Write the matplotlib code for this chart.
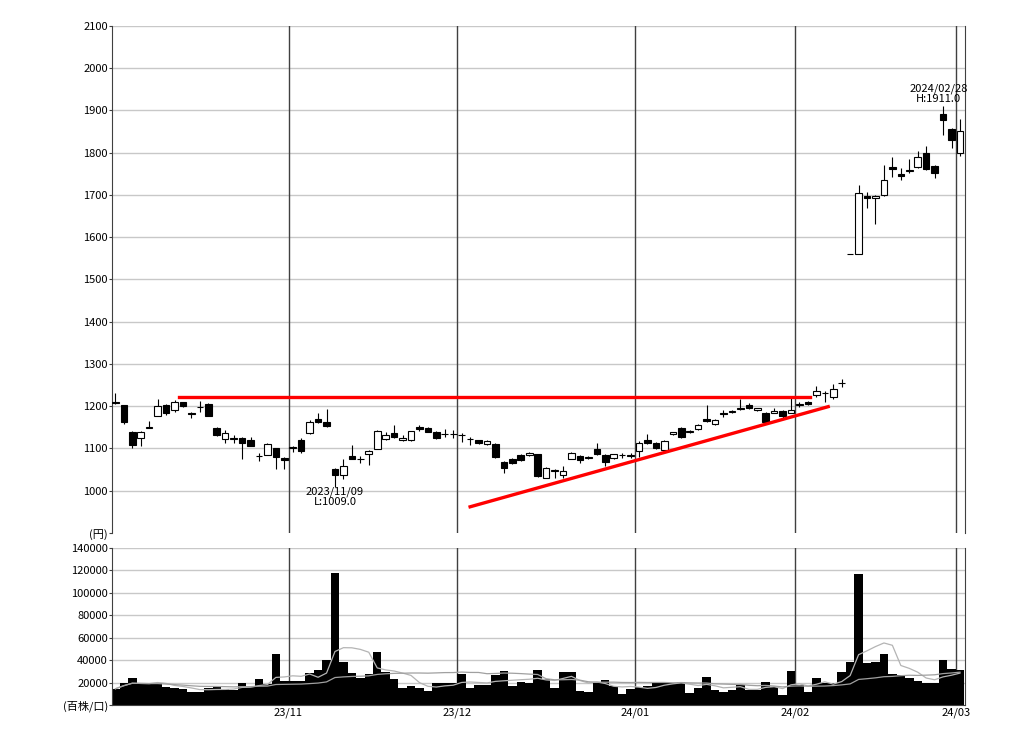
import numpy as np
import pandas as pd
import matplotlib
matplotlib.use("Agg")
import matplotlib.pyplot as plt

plt.rcParams['font.family'] = ['Noto Sans CJK JP', 'DejaVu Sans']

# trading days (TSE) from 2023-10-02 to 2024-03-01
holidays = ["2023-10-09", "2023-11-03", "2023-11-23", "2024-01-01", "2024-01-02",
            "2024-01-03", "2024-01-08", "2024-02-12", "2024-02-23"]
dates = pd.bdate_range("2023-10-02", "2024-03-01", freq="C", holidays=holidays)

opens = [1210, 1202, 1140, 1126, 1149, 1177, 1202, 1192, 1209, 1184,
         1198, 1206, 1149, 1122, 1123, 1125, 1121, 1082, 1085, 1100,
         1078, 1102, 1121, 1136, 1170, 1163, 1051, 1037, 1082, 1074,
         1088, 1099, 1123, 1137, 1121, 1121, 1150, 1148, 1139, 1134,
         1134, 1131, 1123, 1120, 1110, 1111, 1068, 1074, 1084, 1085,
         1086, 1031, 1047, 1037, 1076, 1082, 1078, 1098, 1084, 1078,
         1084, 1083, 1093, 1119, 1114, 1096, 1134, 1148, 1139, 1146,
         1170, 1159, 1184, 1187, 1193, 1204, 1192, 1184, 1185, 1188,
         1185, 1204, 1210, 1226, 1231, 1222, 1254, 1560, 1560, 1697,
         1692, 1700, 1766, 1750, 1756, 1767, 1799, 1768, 1891, 1856,
         1800]
highs = [1232, 1203, 1141, 1141, 1166, 1216, 1205, 1214, 1211, 1187,
         1212, 1207, 1152, 1144, 1131, 1127, 1128, 1090, 1112, 1101,
         1079, 1105, 1124, 1167, 1183, 1194, 1053, 1074, 1109, 1082,
         1096, 1144, 1140, 1156, 1133, 1142, 1156, 1150, 1141, 1145,
         1144, 1137, 1128, 1121, 1120, 1113, 1070, 1077, 1086, 1092,
         1088, 1057, 1052, 1059, 1092, 1085, 1082, 1113, 1086, 1088,
         1090, 1090, 1118, 1135, 1116, 1119, 1140, 1150, 1143, 1158,
         1202, 1169, 1191, 1192, 1218, 1208, 1197, 1186, 1197, 1190,
         1222, 1210, 1212, 1249, 1237, 1253, 1265, 1560, 1723, 1707,
         1700, 1771, 1791, 1763, 1784, 1803, 1816, 1770, 1911, 1858,
         1880]
lows = [1205, 1158, 1101, 1107, 1148, 1176, 1180, 1187, 1198, 1173,
        1187, 1176, 1129, 1113, 1114, 1074, 1105, 1070, 1084, 1052,
        1052, 1092, 1090, 1135, 1160, 1152, 1009, 1027, 1074, 1066,
        1060, 1098, 1120, 1124, 1117, 1118, 1142, 1138, 1123, 1127,
        1126, 1115, 1109, 1110, 1108, 1078, 1043, 1063, 1071, 1083,
        1032, 1029, 1031, 1031, 1074, 1066, 1074, 1084, 1059, 1076,
        1078, 1078, 1080, 1110, 1099, 1093, 1132, 1125, 1137, 1144,
        1163, 1155, 1174, 1185, 1190, 1193, 1189, 1160, 1183, 1172,
        1183, 1199, 1204, 1222, 1210, 1218, 1245, 1560, 1560, 1668,
        1632, 1698, 1743, 1735, 1751, 1765, 1760, 1741, 1842, 1811,
        1792]
closes = [1208, 1163, 1109, 1140, 1151, 1201, 1183, 1209, 1200, 1182,
          1199, 1177, 1132, 1136, 1124, 1114, 1107, 1083, 1110, 1080,
          1072, 1103, 1095, 1162, 1163, 1153, 1037, 1058, 1076, 1075,
          1094, 1142, 1133, 1127, 1125, 1141, 1145, 1140, 1125, 1135,
          1135, 1132, 1123, 1112, 1117, 1080, 1055, 1065, 1073, 1090,
          1034, 1055, 1048, 1047, 1090, 1073, 1079, 1086, 1068, 1086,
          1085, 1084, 1114, 1113, 1101, 1117, 1138, 1128, 1141, 1156,
          1165, 1167, 1181, 1188, 1196, 1195, 1195, 1163, 1188, 1177,
          1190, 1205, 1206, 1237, 1232, 1241, 1255, 1560, 1705, 1693,
          1697, 1735, 1761, 1746, 1758, 1791, 1761, 1753, 1878, 1829,
          1852]
# volume in units of 100 shares
volumes = [14500, 20000, 23800, 18700, 18500, 19300, 16000, 14900, 14000, 11900,
           11900, 15500, 16000, 14300, 13400, 19300, 16400, 23200, 18700, 45500,
           21400, 21400, 21000, 28900, 31000, 40200, 117500, 38100, 28300, 24000,
           27500, 47500, 29300, 23300, 14900, 17000, 15500, 12800, 20000, 20000,
           20000, 27800, 14900, 17900, 17900, 26900, 30400, 17300, 20300, 20000,
           31300, 23000, 14900, 29300, 29300, 12800, 11900, 19400, 22400, 17000,
           9900, 14000, 16400, 17000, 20900, 20000, 20000, 20900, 11000, 14900,
           25400, 13400, 11900, 13400, 17600, 13400, 13400, 20900, 16400, 9000,
           30400, 17900, 11300, 23900, 20000, 20000, 29300, 38200, 117000, 37300,
           38800, 45400, 27800, 26900, 24500, 21800, 19400, 20000, 39700, 31900,
           31300]

# hand-drawn red lines (day index, price)
resistance_x = [7.5, 82.2]
resistance_y = [1222, 1222]
support_x = [42.0, 84.4]
support_y = [962, 1199]

price_ticks = list(range(900, 2101, 100))
vol_ticks = list(range(0, 140001, 20000))

n = len(dates)
x = np.arange(n)
o = np.array(opens, dtype=float)
h = np.array(highs, dtype=float)
l = np.array(lows, dtype=float)
c = np.array(closes, dtype=float)

fig = plt.figure(figsize=(10.24, 7.44), dpi=100)
ax = fig.add_axes([0.1094, 0.2836, 0.8330, 0.6815])
axv = fig.add_axes([0.1094, 0.0524, 0.8330, 0.2110], sharex=ax)

grid_col = '#c8c8c8'
month_col = '#404040'

# month separators
bounds = [i - 0.5 for i in range(1, n) if dates[i].month != dates[i - 1].month]
blabels = [dates[i].strftime('%y/%m') for i in range(1, n) if dates[i].month != dates[i - 1].month]

# price panel
for p in price_ticks[1:]:
    ax.axhline(p, color=grid_col, lw=1, zorder=0)
for b in bounds:
    ax.axvline(b, color=month_col, lw=1, zorder=1)

ax.vlines(x, l, h, color='black', lw=0.8, zorder=3)
body_bottom = np.minimum(o, c)
body_h = np.maximum(np.abs(c - o), 0.01)
body_col = ['white' if cc >= oo else 'black' for oo, cc in zip(o, c)]
ax.bar(x, body_h, bottom=body_bottom, width=0.78, color=body_col,
       edgecolor='black', lw=0.8, zorder=4)

ax.plot(resistance_x, resistance_y, color='#ff0000', lw=2.4, zorder=5)
ax.plot(support_x, support_y, color='#ff0000', lw=2.4, zorder=5)

lo_i = int(np.argmin(l))
hi_i = int(np.argmax(h))
ax.text(lo_i, l[lo_i], f"{dates[lo_i]:%Y/%m/%d}\nL:{l[lo_i]:.1f}", ha='center', va='top',
        fontsize=8, linespacing=1.0, zorder=6)
ax.text(hi_i - 0.5, h[hi_i] + 4, f"{dates[hi_i]:%Y/%m/%d}\nH:{h[hi_i]:.1f}", ha='center', va='bottom',
        fontsize=8, linespacing=1.0, zorder=6)

ax.set_xlim(-0.4, n - 0.4)
ax.set_ylim(900, 2100)
ax.set_yticks(price_ticks)
ax.set_yticklabels(['(円)' if p == 900 else str(p) for p in price_ticks])
ax.tick_params(axis='y', length=2, pad=1, labelsize=8, color='#404040')
ax.tick_params(axis='x', length=0, labelbottom=False)
for s in ['top', 'bottom']:
    ax.spines[s].set_visible(False)
for s in ['left', 'right']:
    ax.spines[s].set_color(month_col)

# volume panel
for v in vol_ticks[1:]:
    axv.axhline(v, color=grid_col, lw=1, zorder=0)
for b in bounds:
    axv.axvline(b, color=month_col, lw=1, zorder=1)
axv.bar(x, volumes, width=1.0, color='black', lw=0, zorder=2)
vs = pd.Series(volumes, dtype=float)
axv.plot(x, vs.rolling(5, min_periods=1).mean(), color='#b4b4b4', lw=0.9, zorder=3)
axv.plot(x, vs.rolling(25, min_periods=1).mean(), color='#a0a0a0', lw=0.9, zorder=3)

axv.set_ylim(0, 140000)
axv.set_yticks(vol_ticks)
axv.set_yticklabels(['(百株/口)' if v == 0 else str(v) for v in vol_ticks])
axv.set_xticks(bounds)
axv.set_xticklabels(blabels)
axv.tick_params(axis='y', length=2, pad=1, labelsize=8, color='#404040')
axv.tick_params(axis='x', length=0, pad=2, labelsize=8)
axv.spines['top'].set_visible(False)
for s in ['left', 'right', 'bottom']:
    axv.spines[s].set_color(month_col)

fig.savefig('out.png', dpi=100)
